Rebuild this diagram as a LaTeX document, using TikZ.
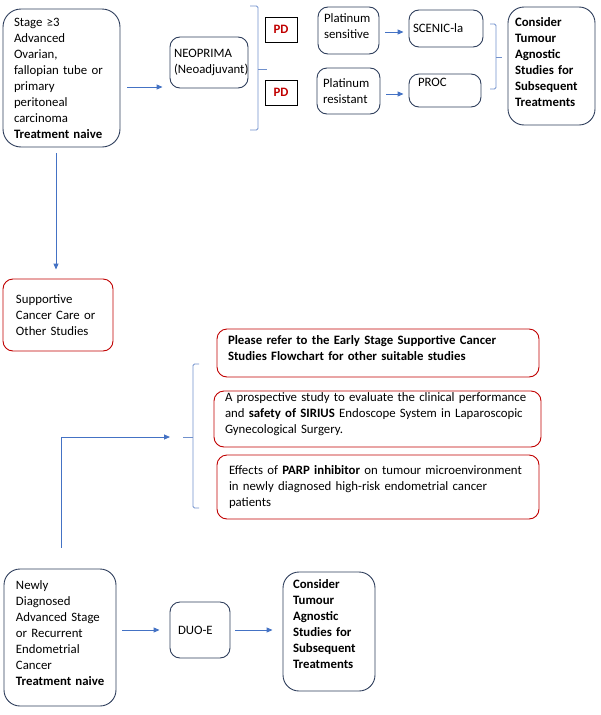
\documentclass[tikz,border=0pt]{standalone}
\usepackage{fontspec}
\setmainfont{Carlito}
\usetikzlibrary{arrows.meta}
\definecolor{navy}{HTML}{2E3E5C}
\definecolor{redb}{HTML}{C00000}
\definecolor{arrblue}{HTML}{4472C4}
\definecolor{brblue}{HTML}{7090CC}
\newcommand{\oneln}[1]{\mbox{#1}}
\begin{document}
\begin{tikzpicture}[x=1pt,y=-1pt,
  every node/.style={font=\fontsize{12.8}{16}\selectfont},
  nbox/.style={draw=navy,line width=0.9pt,rounded corners=#1,align=left,inner ysep=0pt},
  nbox/.default=12pt,
  rbox/.style={draw=redb,line width=0.9pt,rounded corners=10pt,align=left,inner ysep=0pt},
  pdbox/.style={draw=black,line width=0.8pt,minimum width=32pt,minimum height=25pt,inner sep=0pt,text=redb,font=\fontsize{12.8}{16}\selectfont\bfseries},
  arr/.style={draw=arrblue,line width=0.9pt,-{Triangle[length=6pt,width=5pt]}},
  brk/.style={draw=brblue,line width=0.9pt,rounded corners=1.5pt}
]
\useasboundingbox (0,0) rectangle (601,715);

% top row
\node[nbox=18pt,minimum width=117pt,minimum height=138pt,inner xsep=11pt,text width=95pt] (stage) at (61.5,78)
  {Stage ≥3\\Advanced\\Ovarian,\\\oneln{fallopian tube or}\\primary\\peritoneal\\carcinoma\\\oneln{\textbf{Treatment naive}}};
\node[nbox=10pt,minimum width=78pt,minimum height=51pt,inner xsep=4pt,text width=70pt] (neo) at (209,62.5)
  {NEOPRIMA\\\oneln{(Neoadjuvant)}};
\node[pdbox] (pd1) at (281,29.5) {PD};
\node[pdbox] (pd2) at (281,92.5) {PD};
\node[nbox=10pt,minimum width=61pt,minimum height=47pt,inner xsep=6pt,text width=49pt] (ps) at (348.5,30.5)
  {Platinum\\sensitive\\[-7pt]\mbox{}};
\node[nbox=10pt,minimum width=63pt,minimum height=46pt,inner xsep=6pt,text width=51pt] (pr) at (348.5,91)
  {Platinum\\resistant};
\node[nbox=10pt,minimum width=74pt,minimum height=37pt,inner xsep=4pt,text width=66pt] (scenic) at (446,28.5)
  {SCENIC-la};
\node[nbox=10pt,minimum width=72pt,minimum height=33pt,inner xsep=9pt,text width=54pt] (proc) at (445,90.5)
  {PROC\\\mbox{}};
\node[nbox=16pt,minimum width=87pt,minimum height=118pt,inner xsep=7pt,text width=73pt,font=\fontsize{12.8}{16}\selectfont\bfseries] (cons1) at (551.5,66)
  {Consider\\Tumour\\Agnostic\\Studies for\\Subsequent\\Treatments\\[-8pt]\mbox{}};

% brackets top
\draw[brk] (250,6) -- (258,6) -- (258,130) -- (250,130);
\coordinate (b1) at (267,69);
\draw[brk] (258,69) -- (b1);
\draw[brk] (490,24) -- (496,24) -- (496,89) -- (490,89);
\coordinate (b2) at (502,57);
\draw[brk] (496,57) -- (b2);

% arrows top
\draw[arr,shorten <=7pt,shorten >=7pt] ([yshift=-9pt]stage.east) -- ([yshift=-9pt]stage.east -| neo.west);
\draw[arr,shorten <=6pt,shorten >=5pt] ([yshift=-1.5pt]ps.east) -- ([yshift=-1.5pt]ps.east -| scenic.west);
\draw[arr,shorten <=6pt,shorten >=5pt] ([yshift=-3pt]pr.east) -- ([yshift=-3pt]pr.east -| proc.west);

% supportive
\node[rbox,minimum width=110pt,minimum height=72pt,inner xsep=13pt,text width=84pt] (sup) at (58,315)
  {Supportive\\\oneln{Cancer Care or}\\\oneln{Other Studies}};
\draw[arr,shorten <=6pt,shorten >=9pt] ([xshift=-5.5pt]stage.south) -- ([xshift=-5.5pt]stage.south |- sup.north);

% right group
\node[rbox,minimum width=322pt,minimum height=48pt,inner xsep=11pt,text width=300pt,font=\fontsize{12.8}{16}\selectfont\bfseries] (r1) at (378,353)
  {\oneln{Please refer to the Early Stage Supportive Cancer}\\\oneln{Studies Flowchart for other suitable studies}\\[-6pt]\mbox{}};
\node[rbox,minimum width=327pt,minimum height=56pt,inner xsep=11pt,text width=305pt] (r2) at (377.5,419)
  {\oneln{A prospective study to evaluate the clinical performance}\\\oneln{and \textbf{safety of SIRIUS} Endoscope System in Laparoscopic}\\Gynecological Surgery.\\[-4pt]\mbox{}};
\node[rbox,minimum width=322pt,minimum height=64pt,inner xsep=12pt,text width=298pt] (r3) at (378,487)
  {\oneln{Effects of \textbf{PARP inhibitor} on tumour microenvironment}\\\oneln{in newly diagnosed high-risk endometrial cancer}\\patients};
\draw[brk] (199,364) -- (193,364) -- (193,508) -- (199,508);
\coordinate (b3) at (183,437);
\draw[brk] (193,437) -- (b3);

% bottom row
\node[nbox=16pt,minimum width=112pt,minimum height=137pt,inner xsep=12pt,text width=88pt] (newly) at (60,637.5)
  {Newly\\Diagnosed\\\oneln{Advanced Stage}\\\oneln{or Recurrent}\\Endometrial\\Cancer\\\oneln{\textbf{Treatment naive}}\\[-8pt]\mbox{}};
\node[nbox=10pt,minimum width=60pt,minimum height=56pt,inner xsep=8pt,text width=44pt] (duo) at (200,630)
  {DUO-E};
\node[nbox=16pt,minimum width=92pt,minimum height=119pt,inner xsep=10pt,text width=72pt,font=\fontsize{12.8}{16}\selectfont\bfseries] (cons2) at (329,631.5)
  {Consider\\Tumour\\Agnostic\\Studies for\\Subsequent\\Treatments\\[-2pt]\mbox{}};

\draw[arr,shorten <=21pt,shorten >=13pt] ([xshift=1pt]newly.north) |- (b3);
\draw[arr,shorten <=6pt,shorten >=10pt] (duo.west -| newly.east) -- (duo.west);
\draw[arr,shorten <=5pt,shorten >=10pt] (duo.east) -- (duo.east -| cons2.west);
\end{tikzpicture}
\end{document}
